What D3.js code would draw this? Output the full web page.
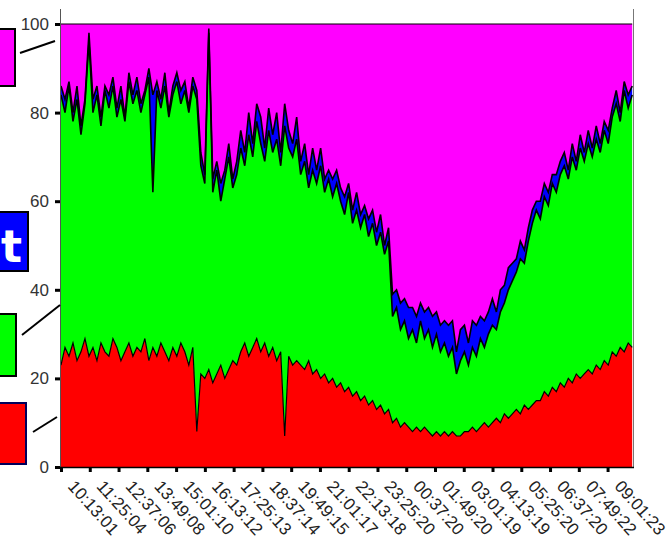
<!DOCTYPE html>
<html><head><meta charset="utf-8">
<script src="https://cdn.jsdelivr.net/npm/d3@7"></script>
<style>html,body{margin:0;padding:0;background:#fff;overflow:hidden}</style>
</head><body>
<svg id="chart" width="669" height="545"></svg>
<script>
const timeLabels = ["10:13:01","11:25:04","12:37:06","13:49:08","15:01:10","16:13:12","17:25:13","18:37:14","19:49:15","21:01:17","22:13:18","23:25:20","00:37:20","01:49:20","03:01:19","04:13:19","05:25:20","06:37:20","07:49:22","09:01:23"];
const yTicks = [0,20,40,60,80,100];
const seriesNames = ["red","green","blue","magenta"];
const legendNames = ["", "Run", "Wait", ""];
const sampleStepMinutes = 10;
const spanMinutes = 1432;

const redValues = [23,27,25,28,24,26,29,25,27,24,28,26,25,29,27,24,26,28,25,27,26,29,24,27,25,28,26,24,27,25,28,26,23,27,
8,
21,20,22,19,21,23,20,22,24,23,
26,28,25,27,29,26,28,25,27,24,26,7,25,23,24,
23,22,24,21,22,20,21,19,20,18,19,17,18,16,17,15,16,14,15,13,14,12,13,
10,11,9,10,9,8,9,8,9,8,7,8,7,8,7,8,7,
7,8,8,9,8,9,10,9,10,11,10,12,11,12,13,12,14,13,
14,15,15,17,16,18,17,19,18,20,19,21,20,21,22,21,23,22,24,23,26,25,27,26,28,27];

const greenValues = [61,53,61,50,59,49,53,71,53,60,49,59,56,57,52,59,52,59,57,58,54,55,64,35,60,53,60,55,57,62,54,59,57,59,
75,47,44,76,43,46,37,45,48,39,43,
46,40,50,43,49,47,41,51,44,50,42,70,47,47,50,
43,47,39,46,42,48,41,46,41,46,41,40,44,39,41,39,41,38,40,37,39,36,38,
24,25,22,23,20,23,19,25,20,23,20,22,19,20,18,19,14,17,18,15,18,17,20,17,21,22,20,25,25,29,30,31,35,32,38,
41,43,41,44,43,46,45,47,50,45,51,46,52,48,51,49,51,49,52,50,53,57,51,59,53,57];

const blueValues = [2,3,1,2,3,2,1,2,3,2,2,1,3,2,2,3,1,2,2,3,2,1,2,22,2,2,3,1,2,2,3,2,1,2,
2,3,2,1,3,2,4,2,3,2,3,
4,3,5,3,4,6,3,5,4,6,3,5,4,3,5,
3,4,3,5,3,4,3,2,4,3,3,4,2,3,4,3,2,4,3,3,4,2,3,
5,4,6,5,7,5,6,4,6,5,7,5,6,5,7,6,5,7,6,5,6,7,5,6,5,6,4,5,4,5,4,3,4,3,3,
3,2,4,3,3,2,4,3,3,2,3,2,3,2,3,2,3,2,2,3,2,3,2,2,3,2];

const magentaValues = [14,17,13,20,14,23,17,2,17,14,21,14,16,12,19,14,21,11,16,12,18,15,10,16,13,17,11,20,14,11,15,13,19,12,
15,29,34,1,35,31,36,33,27,35,31,
24,29,20,27,18,21,28,19,25,20,29,18,24,27,21,
31,27,34,28,33,28,35,33,35,33,37,39,36,42,38,43,41,44,42,47,43,50,46,
61,60,63,62,64,64,66,63,65,64,66,65,68,67,68,67,74,69,68,72,67,68,66,67,65,62,65,60,59,55,54,53,49,51,46,
42,40,40,36,38,34,34,31,29,33,27,31,25,29,24,28,23,27,22,24,19,15,20,13,16,14];

const colors = {red:"#ff0000", green:"#00ff00", blue:"#0000ff", magenta:"#ff00ff"};
const strokeWidths = {red:1.2, green:1.6, blue:1.6, magenta:1.2};

const rows = redValues.map((v,i)=>({t:i*sampleStepMinutes, red:v, green:greenValues[i], blue:blueValues[i], magenta:magentaValues[i]}));

function toMinutes(s){
  const [h,m,sec] = s.split(":").map(Number);
  const [h0,m0,s0] = timeLabels[0].split(":").map(Number);
  let d = (h*60+m+sec/60) - (h0*60+m0+s0/60);
  if (d < 0) d += 1440;
  return d;
}
const tickMinutes = timeLabels.map(toMinutes);

const svg = d3.select("#chart");
const plotLeft = 61, plotRight = 633, plotTop = 24, plotBottom = 467;
const x = d3.scaleLinear().domain([0, spanMinutes]).range([plotLeft, plotRight]);
const y = d3.scaleLinear().domain([0, 100]).range([plotBottom, plotTop]);

const stacked = d3.stack().keys(seriesNames)(rows);
const area = d3.area().x(d=>x(d.data.t)).y0(d=>y(d[0])).y1(d=>y(d[1]));
const topLine = d3.line().x(d=>x(d.data.t)).y(d=>y(d[1]));

svg.append("g").selectAll("path").data(stacked).join("path")
  .attr("d", area).attr("fill", d=>colors[d.key]).attr("stroke","none");
svg.append("g").selectAll("path").data(stacked).join("path")
  .attr("d", topLine).attr("fill","none").attr("stroke","#000").attr("stroke-width",d=>strokeWidths[d.key]);

// frame lines
svg.append("line").attr("x1",plotLeft-0.5).attr("x2",plotLeft-0.5).attr("y1",9).attr("y2",plotBottom).attr("stroke","#555").attr("stroke-width",1);
svg.append("line").attr("x1",plotRight+0.5).attr("x2",plotRight+0.5).attr("y1",9).attr("y2",plotBottom).attr("stroke","#777").attr("stroke-width",1);

// y axis
const yAxis = svg.append("g").attr("transform",`translate(${plotLeft-1},0)`)
  .call(d3.axisLeft(y).tickValues(yTicks).tickSize(5).tickPadding(6));
yAxis.select(".domain").remove();
yAxis.selectAll(".tick line").attr("stroke","#000").attr("stroke-width",3);
yAxis.selectAll(".tick text").attr("font-family","Liberation Sans, Arial, sans-serif").attr("font-size",17).attr("fill","#333");

// x axis
const xAxis = svg.append("g").attr("transform",`translate(0,${plotBottom})`)
  .call(d3.axisBottom(x).tickValues(tickMinutes).tickSize(5).tickFormat((d,i)=>timeLabels[i]));
xAxis.select(".domain").attr("d",`M${plotLeft-5},0.5H${plotRight+1}`).attr("stroke","#000").attr("stroke-width",1.5);
xAxis.selectAll(".tick line").attr("stroke","#000").attr("stroke-width",3);
xAxis.selectAll(".tick text")
  .attr("font-family","Liberation Sans, Arial, sans-serif").attr("font-size",17).attr("fill","#222")
  .attr("text-anchor","start").attr("x",0).attr("y",0).attr("dy","0.35em")
  .attr("transform","translate(10,16) rotate(48)");

// legend boxes (cut off at left edge)
const leg = svg.append("g");
leg.append("rect").attr("x",-10).attr("y",29).attr("width",25).attr("height",57).attr("fill",colors.magenta).attr("stroke","#000").attr("stroke-width",2);
leg.append("line").attr("x1",20).attr("y1",53).attr("x2",55).attr("y2",41).attr("stroke","#000").attr("stroke-width",2);

leg.append("rect").attr("x",-10).attr("y",212).attr("width",38).attr("height",59).attr("fill",colors.blue).attr("stroke","#000").attr("stroke-width",2);
leg.append("text").attr("x",22).attr("y",262).attr("text-anchor","end").attr("font-family","DejaVu Sans, Verdana, sans-serif")
  .attr("font-weight","bold").attr("font-size",44).attr("fill","#fff").text(legendNames[2]);

leg.append("rect").attr("x",-10).attr("y",314).attr("width",26).attr("height",62).attr("fill",colors.green).attr("stroke","#000").attr("stroke-width",2);
leg.append("text").attr("x",2).attr("y",358).attr("text-anchor","end").attr("font-family","DejaVu Sans, Verdana, sans-serif")
  .attr("font-weight","bold").attr("font-size",44).attr("fill","#000040").text(legendNames[1]);
leg.append("line").attr("x1",22).attr("y1",335).attr("x2",60).attr("y2",305).attr("stroke","#000").attr("stroke-width",2);

leg.append("rect").attr("x",-10).attr("y",403).attr("width",36).attr("height",61).attr("fill",colors.red).attr("stroke","#00005a").attr("stroke-width",2);
leg.append("line").attr("x1",33).attr("y1",432).attr("x2",57).attr("y2",417).attr("stroke","#000").attr("stroke-width",2);
</script>
</body></html>
